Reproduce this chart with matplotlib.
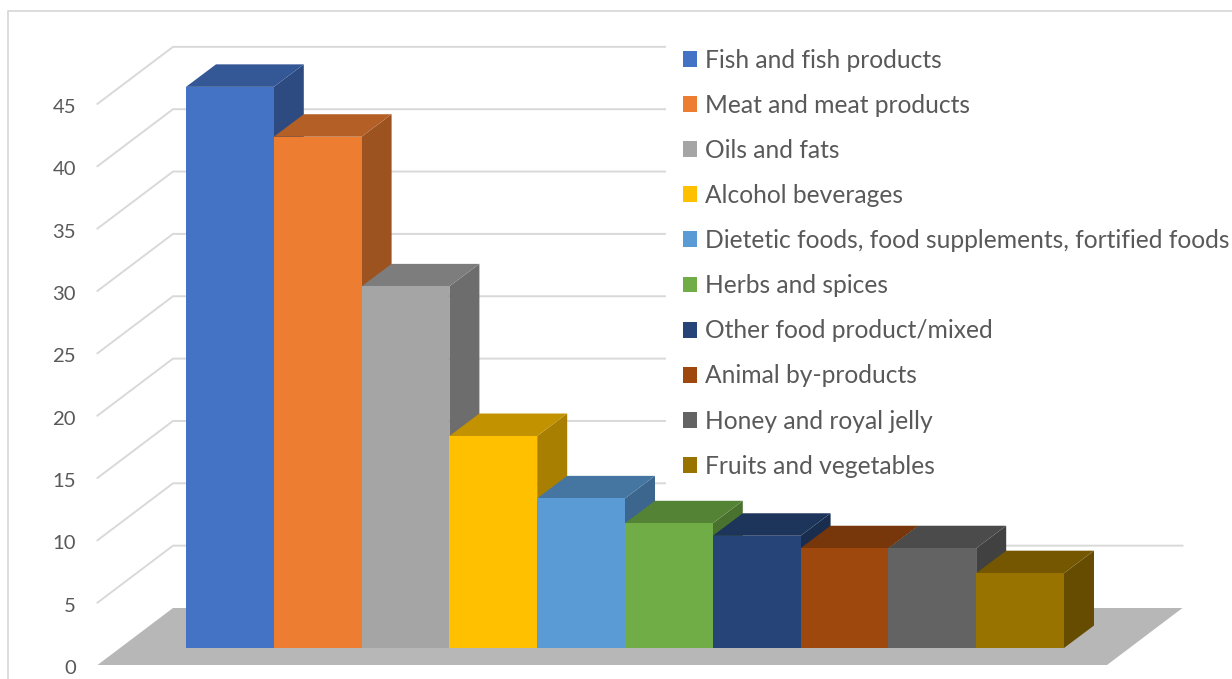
import matplotlib
matplotlib.use("Agg")
import matplotlib.pyplot as plt
from matplotlib.patches import Polygon, Patch
from matplotlib.lines import Line2D

categories = ["Fish and fish products", "Meat and meat products", "Oils and fats",
              "Alcohol beverages", "Dietetic foods, food supplements, fortified foods",
              "Herbs and spices", "Other food product/mixed", "Animal by-products",
              "Honey and royal jelly", "Fruits and vegetables"]
values = [45, 41, 29, 17, 12, 10, 9, 8, 8, 6]
colors = ["#4472C4", "#ED7D31", "#A5A5A5", "#FFC000", "#5B9BD5",
          "#70AD47", "#264478", "#9E480E", "#636363", "#997300"]
ticks = [0, 5, 10, 15, 20, 25, 30, 35, 40, 45]

W, H = 1232, 679
PX_X, PX_Y = 87.8, 12.47        # pixels per category / per value unit
X0_PX, Y0_PX = 186, 648         # pixel of the first bar's front-left base
BAR_DX, BAR_DY = 30 / PX_X, 22.5 / PX_Y
WALL_DX, WALL_DY = 75.5 / PX_X, 57 / PX_Y
FRONT_X0, FRONT_X1 = -88.5 / PX_X, 921 / PX_X
FRONT_Y = -17 / PX_Y
LABEL_DROP = 3.5 / PX_Y
GREY = "#D9D9D9"
TXT = "#595959"
FS = 17.7

plt.rcParams["font.family"] = ["Lato", "DejaVu Sans"]
fig = plt.figure(figsize=(W / 100, H / 100), dpi=100)
ax = fig.add_axes([0, 0, 1, 1])
ax.set_xlim(-X0_PX / PX_X, (W - X0_PX) / PX_X)
ax.set_ylim((Y0_PX - H) / PX_Y, Y0_PX / PX_Y)
for s in ax.spines.values():
    s.set_visible(False)
ax.set_xticks([])
ax.set_yticks([t + FRONT_Y - LABEL_DROP for t in ticks], [str(t) for t in ticks])
ax.tick_params(axis="y", length=0, pad=-76 * 0.72, labelsize=14.6, labelcolor=TXT)
for lab in ax.get_yticklabels():
    lab.set_va("center")


def shade(c, f):
    r, g, b = matplotlib.colors.to_rgb(c)
    return (r * f, g * f, b * f)


# outer frame
ax.add_line(Line2D([8 / W, 8 / W, 1], [0, 1 - 10.5 / H, 1 - 10.5 / H], transform=ax.transAxes,
                   color=GREY, lw=1.3, zorder=1))

# floor
back_x0 = FRONT_X0 + WALL_DX
back_x1 = FRONT_X1 + WALL_DX
back_y = FRONT_Y + WALL_DY
ax.add_patch(Polygon([(FRONT_X0, FRONT_Y), (FRONT_X1, FRONT_Y), (back_x1, back_y), (back_x0, back_y)],
                     closed=True, fc="#B7B7B7", ec="none", zorder=2))

# gridlines: side wall and back wall
for t in ticks[1:]:
    ax.plot([FRONT_X0, back_x0, back_x1], [t + FRONT_Y, t + back_y, t + back_y],
            color=GREY, lw=1.4, zorder=2, solid_joinstyle="miter")

# oblique bars
for i, (v, c) in enumerate(zip(values, colors)):
    z = 3 + i
    x0, x1 = i, i + 1
    ax.add_patch(Polygon([(x1, 0), (x1 + BAR_DX, BAR_DY), (x1 + BAR_DX, v + BAR_DY), (x1, v)],
                         closed=True, fc=shade(c, 0.66), ec="none", zorder=z))
    ax.add_patch(Polygon([(x0, v), (x1, v), (x1 + BAR_DX, v + BAR_DY), (x0 + BAR_DX, v + BAR_DY)],
                         closed=True, fc=shade(c, 0.76), ec="none", zorder=z))
    ax.bar(x0, v, width=1, align="edge", color=c, edgecolor="none", zorder=z + 0.5)

# legend
px = 72 / 100
fs_px = FS / px
handles = [Patch(fc=c, ec="none", label=n) for n, c in zip(categories, colors)]
leg = ax.legend(handles=handles, loc="upper left",
                bbox_to_anchor=(666 / W, 1 - 31.5 / H), frameon=True, fancybox=False,
                facecolor="white", edgecolor="none", framealpha=1,
                fontsize=FS, labelcolor=TXT, borderaxespad=0,
                borderpad=17 / fs_px, handlelength=14 / fs_px, handleheight=15 / fs_px,
                handletextpad=8 / fs_px, labelspacing=(44.6 - fs_px * 0.914) / fs_px)
leg.set_zorder(2.5)

fig.savefig("out.png", dpi=100)
